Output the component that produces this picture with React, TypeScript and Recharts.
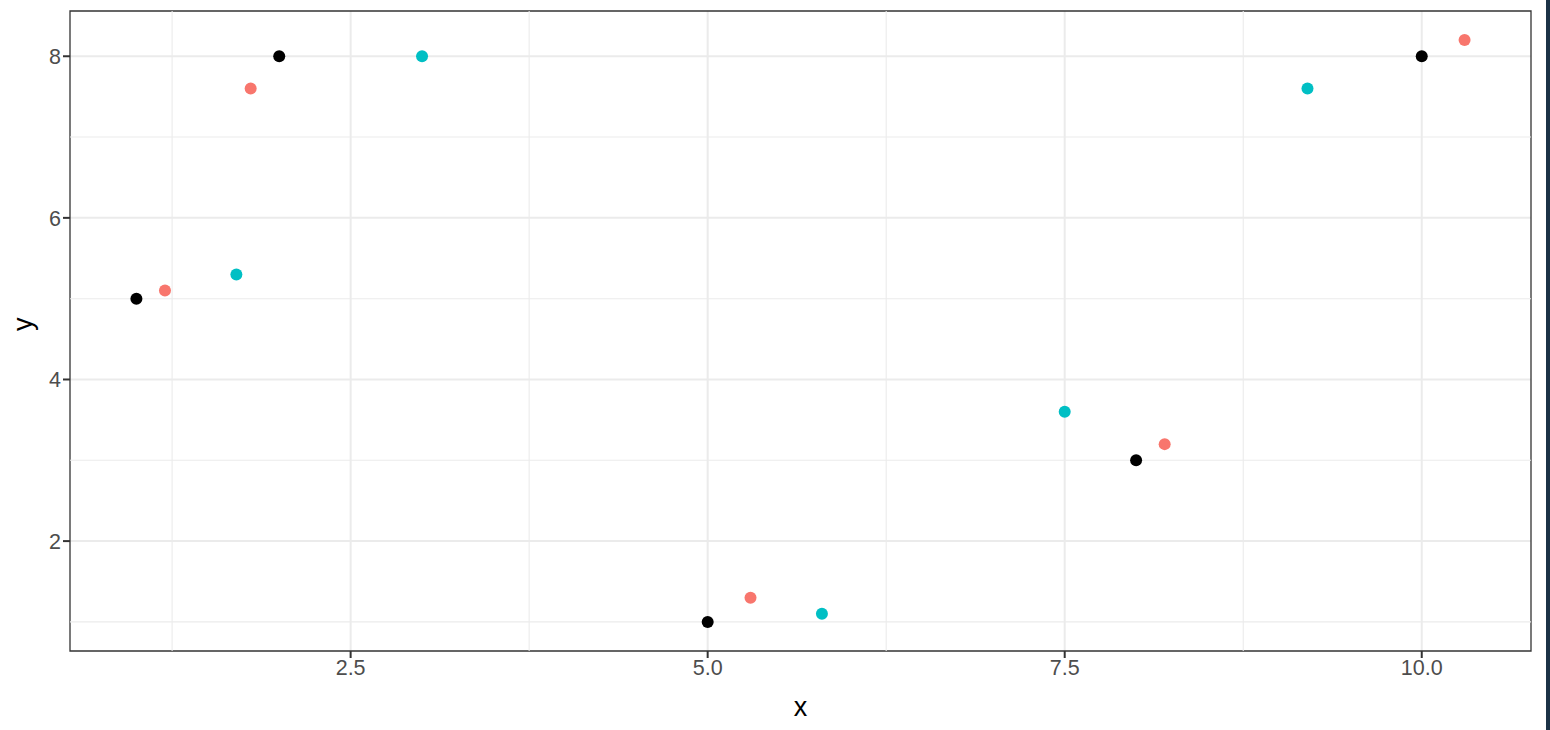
import {
  ScatterChart,
  Scatter,
  XAxis,
  YAxis,
  CartesianGrid,
  ReferenceLine,
  ReferenceArea,
} from "recharts";

const blackX = [1, 2, 5, 8, 10];
const blackY = [5, 8, 1, 3, 8];
const redX = [1.2, 1.8, 5.3, 8.2, 10.3];
const redY = [5.1, 7.6, 1.3, 3.2, 8.2];
const cyanX = [1.7, 3, 5.8, 7.5, 9.2];
const cyanY = [5.3, 8, 1.1, 3.6, 7.6];

const xTicks = [2.5, 5, 7.5, 10];
const yTicks = [2, 4, 6, 8];
const xMinor = [1.25, 3.75, 6.25, 8.75];
const yMinor = [1, 3, 5, 7];

const xDomain: [number, number] = [0.535, 10.765];
const yDomain: [number, number] = [0.64, 8.56];

const toPoints = (xs: number[], ys: number[]) => xs.map((x, i) => ({ x, y: ys[i] }));

const FONT = "'Liberation Sans', Arial, Helvetica, sans-serif";
const GRID = "#EBEBEB";

function dot(color: string) {
  return (p: any) => <circle cx={p.cx} cy={p.cy} r={6} fill={color} />;
}

export default function App() {
  return (
    <div style={{ position: "absolute", left: 0, top: 0, width: 1550, height: 730, background: "#fff" }}>
      <ScatterChart
        width={1550}
        height={730}
        margin={{ top: 11, right: 19, left: 0, bottom: 0 }}
        style={{ fontFamily: FONT }}
      >
        <CartesianGrid stroke={GRID} strokeWidth={2} horizontalValues={yTicks} verticalValues={xTicks} />
        {xMinor.map((v) => (
          <ReferenceLine key={"vx" + v} x={v} stroke={GRID} strokeWidth={1.1} />
        ))}
        {yMinor.map((v) => (
          <ReferenceLine key={"hy" + v} y={v} stroke={GRID} strokeWidth={1.1} />
        ))}
        <XAxis
          type="number"
          dataKey="x"
          domain={xDomain}
          ticks={xTicks}
          allowDataOverflow
          tickFormatter={(v: number) => v.toFixed(1)}
          height={79}
          axisLine={false}
          tickSize={7}
          tickLine={{ stroke: "#333", strokeWidth: 2 }}
          tick={{ fill: "#4D4D4D", fontSize: 21.5 }}
          label={{ value: "x", position: "insideBottom", offset: 14, fill: "#000", fontSize: 27 }}
        />
        <YAxis
          type="number"
          dataKey="y"
          domain={yDomain}
          ticks={yTicks}
          allowDataOverflow
          width={70}
          axisLine={false}
          tickSize={7}
          tickLine={{ stroke: "#333", strokeWidth: 2 }}
          tick={{ fill: "#4D4D4D", fontSize: 21.5 }}
          label={{ value: "y", angle: -90, position: "insideLeft", offset: 22, fill: "#000", fontSize: 27 }}
        />
        <ReferenceArea
          x1={xDomain[0]}
          x2={xDomain[1]}
          y1={yDomain[0]}
          y2={yDomain[1]}
          fill="none"
          stroke="#333"
          strokeWidth={1.3}
          ifOverflow="visible"
        />
        <Scatter data={toPoints(blackX, blackY)} fill="#000" shape={dot("#000")} isAnimationActive={false} />
        <Scatter data={toPoints(redX, redY)} fill="#F8766D" shape={dot("#F8766D")} isAnimationActive={false} />
        <Scatter data={toPoints(cyanX, cyanY)} fill="#00BFC4" shape={dot("#00BFC4")} isAnimationActive={false} />
      </ScatterChart>
      <div style={{ position: "absolute", left: 1546, top: 0, width: 4, height: 730, background: "#1c3246" }} />
    </div>
  );
}
